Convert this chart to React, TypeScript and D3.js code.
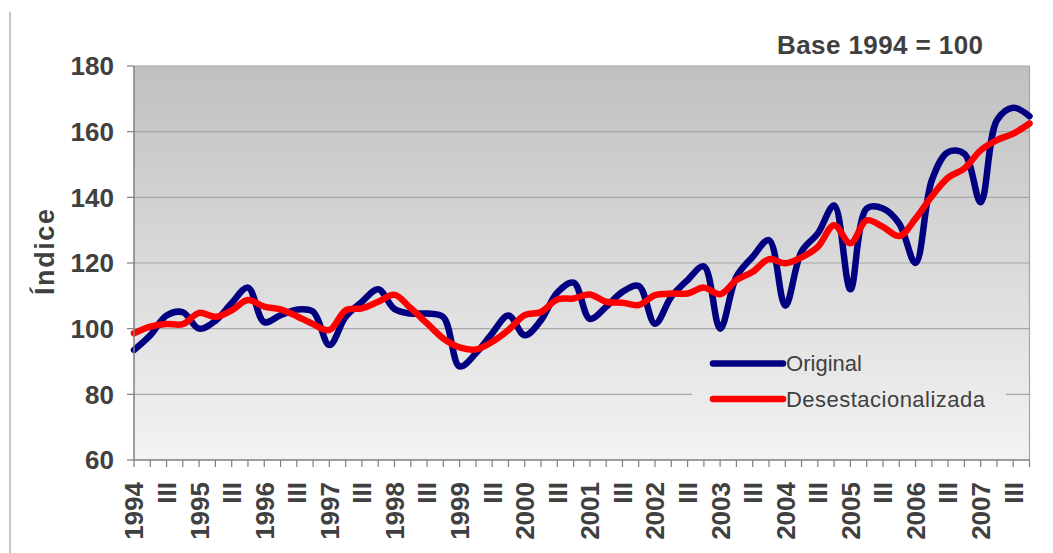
import React from "react";
import * as d3 from "d3";

// ---- data (quarterly, 1994 Q1 .. 2007 Q4) ----
const years = [1994, 1995, 1996, 1997, 1998, 1999, 2000, 2001, 2002, 2003, 2004, 2005, 2006, 2007];
const quarterNames = ["I", "II", "III", "IV"];
const shownQuarterLabel = "III";

const original = [
  93.5, 98, 104, 105, 100, 102.4, 107.8, 112.5,
  102, 104.1, 105.8, 105.2, 95, 103.6, 108.2, 112,
  106, 104.6, 104.6, 103.5, 88.5, 92.5, 98.6, 104,
  98, 102.6, 111, 114, 103, 106.7, 111.2, 113,
  101.5, 109.7, 114.8, 119, 100, 115.8, 121.9, 127,
  107, 123.5, 129, 137.5, 112, 136.6, 136.6, 132,
  120, 145.2, 153.8, 153.3, 138.5, 163.5, 167.3, 164.7,
];

const desestacionalizada = [
  98.6, 100.6, 101.4, 101.4, 104.8, 103.6, 105.6, 108.7,
  106.7, 105.9, 103.8, 101.4, 99.6, 105.6, 106.2, 108.2,
  110.3, 106.2, 101.6, 97, 94.3, 93.7, 96, 99.6,
  104.1, 105.1, 108.9, 109.2, 110.4, 108.2, 107.9, 107.2,
  110.2, 110.7, 110.7, 112.5, 110.5, 114.8, 117.3, 121.2,
  119.9, 121.7, 124.9, 131.5, 126, 133, 131, 128.2,
  133.5, 140.3, 146, 148.8, 154.3, 157.4, 159.4, 162.5,
];

const yTicks = [60, 80, 100, 120, 140, 160, 180];
const seriesNames = ["Original", "Desestacionalizada"];
const seriesColors = ["#000080", "#ff0000"];
const titleText = "Base 1994 = 100";
const yAxisTitle = "Índice";

const FONT = "'Liberation Sans', Arial, Helvetica, sans-serif";
const TEXT = "#404040";

export default function App() {
  const W = 1053;
  const H = 553;
  const L = 134, R = 1029.5, T = 66, B = 460;

  const periods = years.flatMap((yr) => quarterNames.map((q) => `${yr}-${q}`));
  const x = d3.scalePoint<string>().domain(periods).range([L, R]);
  const y = d3.scaleLinear().domain([60, 180]).range([B, T]);

  const line = d3
    .line<number>()
    .x((_, i) => x(periods[i]) as number)
    .y((d) => y(d))
    .curve(d3.curveCatmullRom.alpha(0.5));

  const labelFor = (p: string) => {
    const [yr, q] = p.split("-");
    if (q === "I") return yr;
    if (q === shownQuarterLabel) return q;
    return "";
  };

  const legendX = 713;
  const legendYs = [363.5, 399];
  const legendTextLen = [76, 199];

  return (
    <svg
      width={W}
      height={H}
      viewBox={`0 0 ${W} ${H}`}
      style={{ position: "absolute", left: 0, top: 0, background: "#ffffff" }}
      fontFamily={FONT}
    >
      <defs>
        <linearGradient id="bg" gradientUnits="userSpaceOnUse" x1="0" y1={T} x2="0" y2={B}>
          <stop offset="0" stopColor="#c0c0c0" />
          <stop offset="1" stopColor="#f3f3f3" />
        </linearGradient>
      </defs>

      {/* outer frame left edge */}
      <line x1={10} y1={12} x2={10} y2={H} stroke="#c8c8c8" strokeWidth={2} />

      {/* plot background */}
      <rect x={L} y={T} width={R - L} height={B - T} fill="url(#bg)" />

      {/* gridlines */}
      {yTicks.slice(1).map((t) => (
        <line key={t} x1={L} x2={R} y1={y(t)} y2={y(t)} stroke="#a6a6a6" strokeWidth={1.2} />
      ))}
      {/* right border */}
      <line x1={R} x2={R} y1={T} y2={B} stroke="#a6a6a6" strokeWidth={1.2} />

      {/* legend box (same background, hides gridline) */}
      <rect x={692} y={342} width={314} height={76} fill="url(#bg)" />

      {/* series */}
      <path d={line(original) || ""} fill="none" stroke={seriesColors[0]} strokeWidth={6.5} strokeLinejoin="round" strokeLinecap="round" />
      <path d={line(desestacionalizada) || ""} fill="none" stroke={seriesColors[1]} strokeWidth={6.5} strokeLinejoin="round" strokeLinecap="round" />

      {/* axes */}
      <line x1={L} x2={L} y1={T} y2={B} stroke="#808080" strokeWidth={1.5} />
      <line x1={L} x2={R} y1={B} y2={B} stroke="#808080" strokeWidth={1.5} />
      {yTicks.map((t) => (
        <g key={t}>
          <line x1={L - 7} x2={L} y1={y(t)} y2={y(t)} stroke="#808080" strokeWidth={1.2} />
          <text x={114} y={y(t)} dy="0.36em" textAnchor="end" fontSize={26} fontWeight="bold" fill={TEXT}>
            {t}
          </text>
        </g>
      ))}
      {periods.map((p) => {
        const px = x(p) as number;
        const lab = labelFor(p);
        return (
          <g key={p}>
            <line x1={px} x2={px} y1={B} y2={B + 7} stroke="#808080" strokeWidth={1.2} />
            {lab && (
              <text
                transform={`translate(${px},482) rotate(-90)`}
                dy="0.36em"
                textAnchor="end"
                fontSize={26}
                fontWeight="bold"
                fill={TEXT}
              >
                {lab}
              </text>
            )}
          </g>
        );
      })}

      {/* y axis title */}
      <text
        transform="translate(44,252) rotate(-90)"
        dy="0.36em"
        textAnchor="middle"
        fontSize={27}
        fontWeight="bold"
        fill={TEXT}
        textLength={86}
        lengthAdjust="spacing"
      >
        {yAxisTitle}
      </text>

      {/* title */}
      <text x={983} y={54} textAnchor="end" fontSize={26} fontWeight="bold" fill={TEXT} textLength={206} lengthAdjust="spacing">
        {titleText}
      </text>

      {/* legend */}
      {seriesNames.map((n, i) => (
        <g key={n}>
          <line
            x1={legendX}
            x2={legendX + 70}
            y1={legendYs[i]}
            y2={legendYs[i]}
            stroke={seriesColors[i]}
            strokeWidth={6.5}
            strokeLinecap="round"
          />
          <text
            x={786}
            y={legendYs[i]}
            dy="0.36em"
            fontSize={22}
            fill={TEXT}
            textLength={legendTextLen[i]}
            lengthAdjust="spacing"
          >
            {n}
          </text>
        </g>
      ))}
    </svg>
  );
}
